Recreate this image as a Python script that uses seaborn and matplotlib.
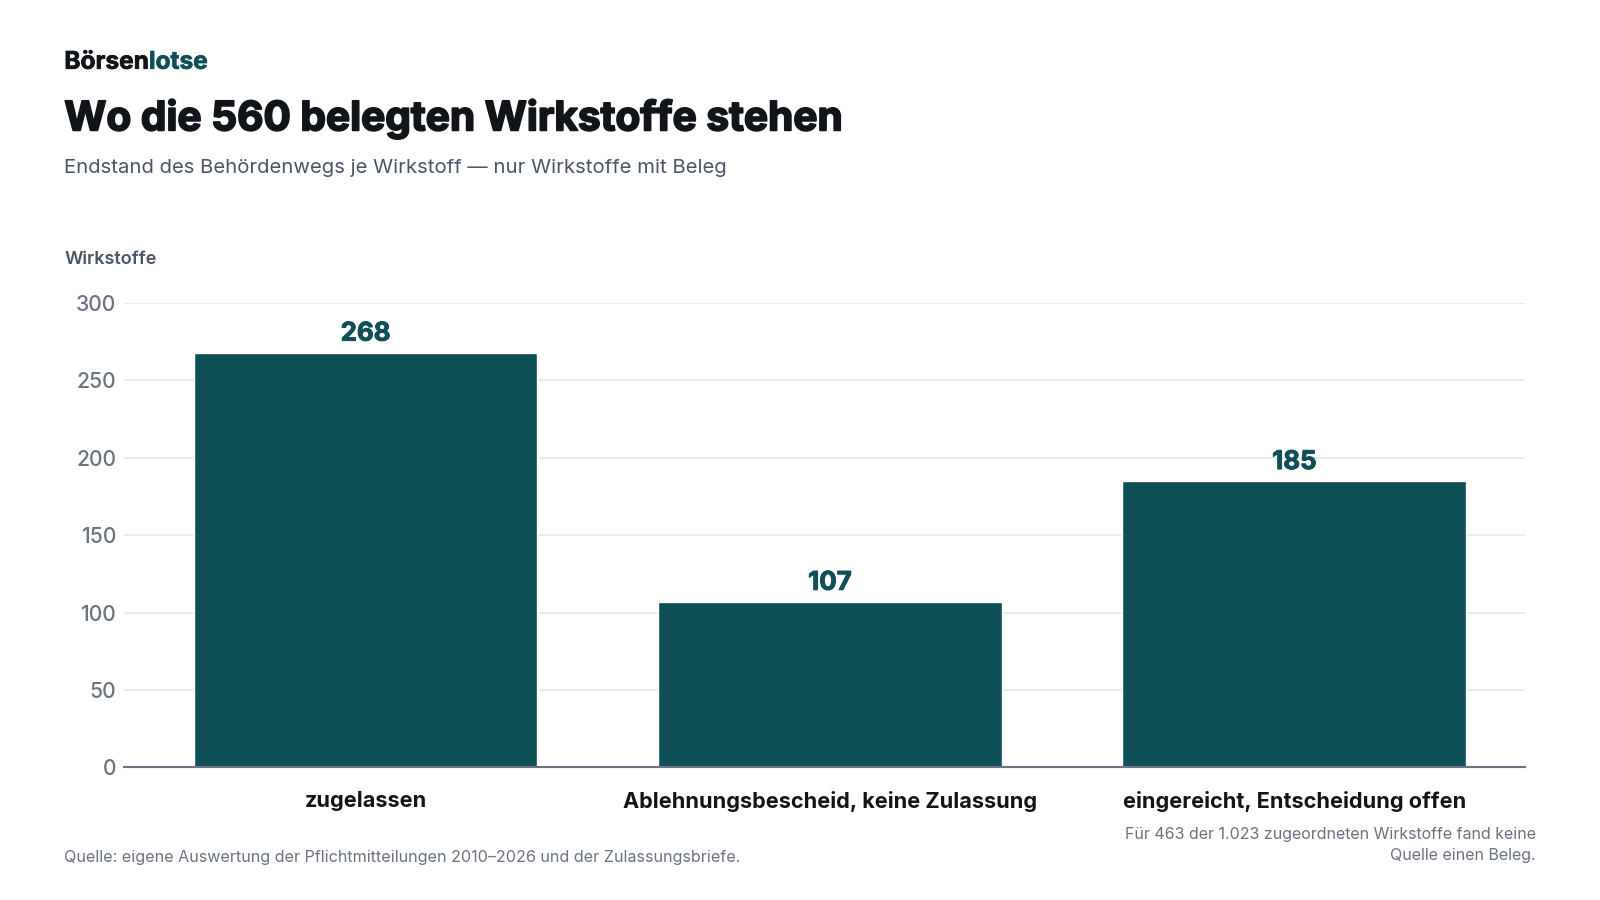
import matplotlib
matplotlib.use("Agg")
import matplotlib.pyplot as plt
import matplotlib.patheffects as pe
import seaborn as sns
import pandas as pd

categories = ["zugelassen", "Ablehnungsbescheid, keine Zulassung", "eingereicht, Entscheidung offen"]
values = [268, 107, 185]
yticks = [0, 50, 100, 150, 200, 250, 300]

BAR = "#0f4f57"
DARK = "#111418"
GRAY = "#6b7280"
SUB = "#4b5563"

sns.set_theme(style="white")
plt.rcParams["font.family"] = ["Inter", "DejaVu Sans"]

df = pd.DataFrame({"cat": categories, "val": values})

fig = plt.figure(figsize=(16, 9), dpi=100)
ax = fig.add_axes([0.0778, 0.1474, 0.8756, 0.5159])
sns.barplot(data=df, x="cat", y="val", color=BAR, width=0.74, saturation=1, ax=ax)

ax.set_ylim(0, 300)
ax.set_xlim(-0.519, 2.498)
ax.set_yticks(yticks)
ax.set_yticklabels([str(t) for t in yticks], fontsize=15.2, color=GRAY, fontweight="medium")
ax.tick_params(axis="y", length=0, pad=6)
ax.tick_params(axis="x", length=0, pad=17)
for lbl in ax.get_xticklabels():
    lbl.set_fontsize(15.6)
    lbl.set_fontweight("bold")
    lbl.set_color(DARK)
ax.set_xlabel("")
ax.set_ylabel("")
ax.grid(axis="y", color="#e5e7eb", linewidth=1.2)
ax.set_axisbelow(True)
for s in ["top", "right", "left"]:
    ax.spines[s].set_visible(False)
ax.spines["bottom"].set_color(GRAY)
ax.spines["bottom"].set_linewidth(1.5)

for i, v in enumerate(values):
    ax.annotate(str(v), xy=(i, v), xytext=(0, 5), textcoords="offset points",
                ha="center", va="bottom", fontsize=18.6, fontweight="bold", color=BAR,
                path_effects=[pe.withStroke(linewidth=0.7, foreground=BAR)])

BY = 0.9308
t = fig.text(0.0402, BY, "Börsen", fontsize=17.6, fontweight="bold", color=DARK, va="center", ha="left",
             path_effects=[pe.withStroke(linewidth=0.5, foreground=DARK)])
fig.canvas.draw()
bb = t.get_window_extent()
fig.text(bb.x1 / fig.bbox.width, BY, "lotse", fontsize=17.6, fontweight="bold", color=BAR, va="center", ha="left",
         path_effects=[pe.withStroke(linewidth=0.5, foreground=BAR)])

fig.text(0.0402, 0.8685, "Wo die 560 belegten Wirkstoffe stehen", fontsize=29.2, fontweight="bold",
         color=DARK, va="center", ha="left",
         path_effects=[pe.withStroke(linewidth=1.3, foreground=DARK)])
fig.text(0.0402, 0.813, "Endstand des Behördenwegs je Wirkstoff — nur Wirkstoffe mit Beleg",
         fontsize=14.6, color=SUB, va="center", ha="left")
fig.text(0.0402, 0.712, "Wirkstoffe", fontsize=13, fontweight="semibold", color=SUB, va="center", ha="left")

fig.text(0.0402, 0.0476, "Quelle: eigene Auswertung der Pflichtmitteilungen 2010–2026 und der Zulassungsbriefe.",
         fontsize=11.6, color=GRAY, va="center", ha="left")
fig.text(0.9598, 0.061, "Für 463 der 1.023 zugeordneten Wirkstoffe fand keine\nQuelle einen Beleg.",
         fontsize=11.5, color=GRAY, va="center", ha="right", multialignment="right", linespacing=1.55)

fig.savefig("out.png", dpi=100, facecolor="white")
